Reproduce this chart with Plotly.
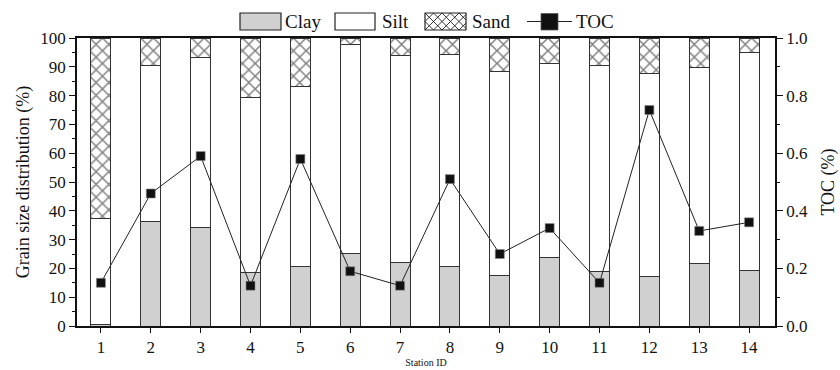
import plotly.graph_objects as go

stations = list(range(1, 15))
clay = [0.5, 36.2, 34.3, 18.5, 20.6, 25.1, 22.1, 20.8, 17.5, 23.7, 19.0, 17.2, 21.7, 19.2]
silt_top = [37.2, 90.6, 93.2, 79.5, 83.1, 97.6, 93.8, 94.4, 88.2, 91.1, 90.6, 87.7, 89.8, 95.0]
silt = [round(t - c, 1) for t, c in zip(silt_top, clay)]
sand = [round(100 - t, 1) for t in silt_top]
toc = [0.15, 0.46, 0.59, 0.14, 0.58, 0.19, 0.14, 0.51, 0.25, 0.34, 0.15, 0.75, 0.33, 0.36]

font = "'Liberation Serif', 'Times New Roman', Times, serif"
edge = dict(color="#333333", width=1)

W, H = 840, 370
ML, MR, MT, MB = 77, 65, 38, 44
PW, PH = W - ML - MR, H - MT - MB


def px(x):
    return (x - ML) / PW


def py(y):
    return (H - MB - y) / PH


fig = go.Figure()
fig.add_trace(go.Bar(x=stations, y=clay, name="Clay", width=0.4,
                     marker=dict(color="#d0d0d0", line=edge)))
fig.add_trace(go.Bar(x=stations, y=silt, name="Silt", width=0.4,
                     marker=dict(color="white", line=edge)))
fig.add_trace(go.Bar(x=stations, y=sand, name="Sand", width=0.4,
                     marker=dict(color="white", line=edge,
                                 pattern=dict(shape="x", size=9, solidity=0.3,
                                              fgcolor="#000000", bgcolor="white"))))
fig.add_trace(go.Scatter(x=stations, y=toc, name="TOC", yaxis="y2", mode="lines+markers",
                         line=dict(color="#222222", width=1),
                         marker=dict(symbol="square", size=9, color="#111111",
                                     line=dict(color="#888888", width=0.6))))

# ---- custom legend (paper coordinates) ----
shapes = []
annos = []
ly0, ly1 = 13, 30
lyc = (ly0 + ly1) / 2


def box(x0, x1, fill):
    shapes.append(dict(type="rect", xref="paper", yref="paper",
                       x0=px(x0), x1=px(x1), y0=py(ly1), y1=py(ly0),
                       fillcolor=fill, line=dict(color="#222222", width=1.2)))


def label(x, text):
    annos.append(dict(xref="paper", yref="paper", x=px(x), y=py(lyc), text=text,
                      showarrow=False, xanchor="left", yanchor="middle",
                      font=dict(family=font, size=19, color="#111111")))


box(240, 281, "#d0d0d0")
label(283, "Clay")
box(335, 375, "white")
label(380, "Silt")
box(425, 466, "white")
# cross hatch inside sand box
bx0, bx1 = 425, 466
bw, bh = bx1 - bx0, ly1 - ly0
step = 8.5
c = -bh
while c < bw + bh:
    for sgn in (1, -1):
        pts = []
        # line: local x = c + sgn*... ; use param t in y
        # sgn=1: x = c + y ; sgn=-1: x = c + bh - y
        for yy in (0, bh):
            xx = c + yy if sgn == 1 else c + bh - yy
            pts.append((xx, yy))
        (xa, ya), (xb, yb) = pts
        # clip to 0..bw
        def clip(xa, ya, xb, yb):
            if xb == xa:
                return None
            t0, t1 = 0.0, 1.0
            for xlim in (0, bw):
                pass
            dx = xb - xa
            ta = (0 - xa) / dx
            tb = (bw - xa) / dx
            lo, hi = max(0, min(ta, tb)), min(1, max(ta, tb))
            if lo >= hi:
                return None
            return (xa + lo * dx, ya + lo * (yb - ya), xa + hi * dx, ya + hi * (yb - ya))
        r = clip(xa, ya, xb, yb)
        if r:
            x0, y0, x1, y1 = r
            shapes.append(dict(type="line", xref="paper", yref="paper",
                               x0=px(bx0 + x0), y0=py(ly0 + y0), x1=px(bx0 + x1), y1=py(ly0 + y1),
                               line=dict(color="#222222", width=0.9)))
    c += step
label(470, "Sand")
shapes.append(dict(type="line", xref="paper", yref="paper",
                   x0=px(527), x1=px(572), y0=py(lyc), y1=py(lyc),
                   line=dict(color="#222222", width=1.2)))
shapes.append(dict(type="rect", xref="paper", yref="paper",
                   x0=px(541), x1=px(558), y0=py(ly1), y1=py(ly0 + 0.5),
                   fillcolor="#111111", line=dict(color="#555555", width=0.8)))
label(574, "TOC")

fig.update_layout(
    width=W, height=H,
    margin=dict(l=ML, r=MR, t=MT, b=MB, autoexpand=False),
    barmode="stack",
    plot_bgcolor="white", paper_bgcolor="white",
    font=dict(family=font, size=16, color="#111111"),
    showlegend=False,
    shapes=shapes,
    annotations=annos,
    xaxis=dict(range=[0.52, 14.52], tickmode="array", tickvals=stations,
               ticktext=[str(s) for s in stations], automargin=False,
               ticks="outside", ticklen=5, tickwidth=1.2, tickcolor="#111111",
               showline=True, linecolor="#111111", linewidth=1.5, mirror=True,
               showgrid=False, zeroline=False,
               title=dict(text="Station ID", font=dict(family=font, size=10), standoff=3),
               tickfont=dict(family=font, size=17)),
    yaxis=dict(range=[0, 100], tickmode="array", tickvals=list(range(0, 101, 10)),
               automargin=False,
               ticks="outside", ticklen=6, tickwidth=1.2, tickcolor="#111111",
               minor=dict(tickmode="array", tickvals=list(range(5, 100, 10)),
                          ticks="outside", ticklen=3, tickcolor="#111111", tickwidth=1),
               showline=True, linecolor="#111111", linewidth=1.5,
               showgrid=False, zeroline=False,
               title=dict(text="Grain size distribution (%)", font=dict(family=font, size=18), standoff=6),
               tickfont=dict(family=font, size=17)),
    yaxis2=dict(range=[0, 1.0], overlaying="y", side="right", anchor="x",
                automargin=False,
                tickmode="array", tickvals=[0, 0.2, 0.4, 0.6, 0.8, 1.0],
                ticktext=["0.0", "0.2", "0.4", "0.6", "0.8", "1.0"],
                ticks="outside", ticklen=6, tickwidth=1.2, tickcolor="#111111",
                minor=dict(tickmode="array", tickvals=[0.1, 0.3, 0.5, 0.7, 0.9],
                           ticks="outside", ticklen=3, tickcolor="#111111", tickwidth=1),
                showline=True, linecolor="#111111", linewidth=1.5,
                showgrid=False, zeroline=False,
                title=dict(text="TOC (%)", font=dict(family=font, size=18), standoff=14),
                tickfont=dict(family=font, size=17)),
)

fig.write_html("out.html")
